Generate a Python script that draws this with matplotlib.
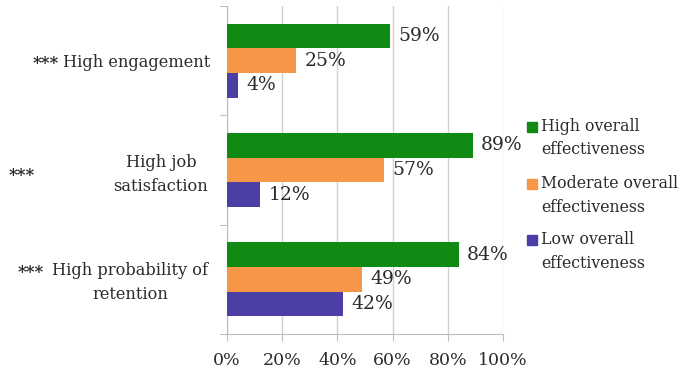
import matplotlib
matplotlib.use('Agg')
import matplotlib.pyplot as plt
import matplotlib.transforms as mtransforms
from matplotlib.patches import Rectangle
import numpy as np

plt.rcParams['font.family'] = 'DejaVu Serif'

# Outcome categories (top to bottom)
outcomes = ['High engagement', 'High job\nsatisfaction', 'High probability of\nretention']
# Share of each outcome by overall effectiveness group, in percent
high_eff = [59, 89, 84]
moderate_eff = [25, 57, 49]
low_eff = [4, 12, 42]
series_names = ['High overall\neffectiveness', 'Moderate overall\neffectiveness',
                'Low overall\neffectiveness']
series_colors = ['#118A14', '#F79646', '#4B3FA6']
x_ticks = [0, 20, 40, 60, 80, 100]

W, H = 686, 377
fig = plt.figure(figsize=(W / 100, H / 100), dpi=100)
ax = fig.add_axes([227 / W, 43 / H, 276 / W, 328 / H])

y = np.arange(len(outcomes))
h = 0.225
for k, (vals, name, col) in enumerate(zip([high_eff, moderate_eff, low_eff], series_names, series_colors)):
    bars = ax.barh(y + (k - 1) * h, vals, height=h, color=col, label=name, zorder=3)
    for b, v in zip(bars, vals):
        ax.annotate(f'{v}%', xy=(v, b.get_y() + b.get_height() / 2), xytext=(6, 0),
                    textcoords='offset points', ha='left', va='center',
                    fontsize=13.5, color='#2b2b2b', zorder=4)

ax.set_xlim(0, 100)
ax.set_ylim(len(outcomes) - 0.5, -0.5)
ax.set_xticks(x_ticks)
ax.set_xticklabels([f'{t}%' for t in x_ticks], fontsize=12.5, color='#2b2b2b')
ax.tick_params(axis='x', length=5, color='#bdbdbd', pad=8)
ax.grid(axis='x', color='#d0d0d0', linewidth=1, zorder=0)

# category boundaries as tick marks on the left spine
ax.set_yticks(np.arange(-0.5, len(outcomes), 1.0))
ax.set_yticklabels([])
ax.tick_params(axis='y', length=5, color='#bdbdbd')

for s in ['top', 'right']:
    ax.spines[s].set_visible(False)
for s in ['left', 'bottom']:
    ax.spines[s].set_color('#bdbdbd')

# category labels with significance stars
trans = mtransforms.blended_transform_factory(fig.transFigure, ax.transData)
label_x = [210, 161, 130]
label_ha = ['right', 'center', 'center']
label_dy = [0.02, 0.04, 0.03]
star_x = [46, 22, 31]
star_dy = [0.03, 0.05, -0.06]
for i, lab in enumerate(outcomes):
    ax.text(label_x[i] / W, i + label_dy[i], lab, transform=trans, ha=label_ha[i], va='center',
            multialignment='center', fontsize=11.7, color='#2b2b2b', linespacing=1.5)
    ax.text(star_x[i] / W, i + star_dy[i], '***', transform=trans, ha='center', va='center',
            fontsize=12, fontweight='bold', color='#2b2b2b')

# legend: square marker next to the first line of each wrapped label
leg_y = [127, 184, 240]
for name, col, ly in zip(series_names, series_colors, leg_y):
    fig.add_artist(Rectangle((527 / W, 1 - (ly + 5) / H), 10 / W, 10 / H,
                             transform=fig.transFigure, color=col))
    fig.text(541 / W, 1 - (ly - 9) / H, name, ha='left', va='top', fontsize=11.3,
             color='#2b2b2b', linespacing=1.5)

fig.savefig('out.png', dpi=100)
